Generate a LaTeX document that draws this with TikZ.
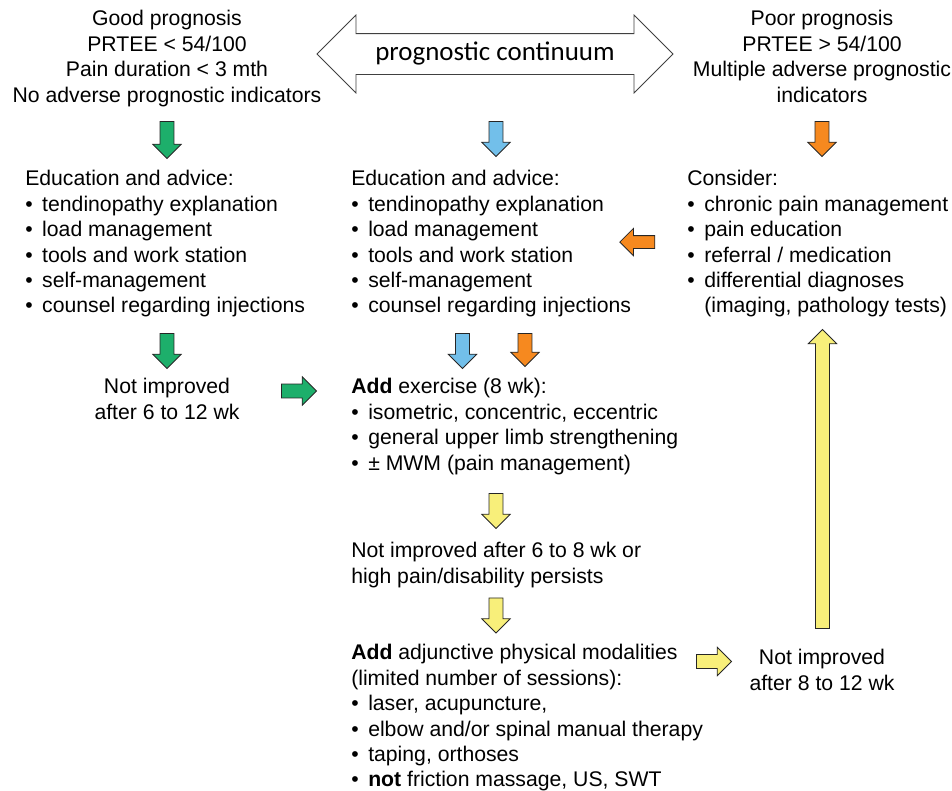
\documentclass[tikz,border=0pt]{standalone}
\usepackage{fontspec}
\setmainfont{Liberation Sans}
\newfontfamily\calib{Carlito}
\usetikzlibrary{shapes.arrows,positioning}

\definecolor{goodgreen}{HTML}{1DAF6B}
\definecolor{midblue}{HTML}{72BFEA}
\definecolor{pooror}{HTML}{F6891F}
\definecolor{lateyel}{HTML}{F8EF7A}

\newcommand{\bul}{\makebox[12.75pt][l]{\textbullet}}

\begin{document}
\begin{tikzpicture}[x=0.75pt,y=-0.75pt,
      txt/.style={font=\fontsize{15.9}{19.1}\selectfont,inner sep=0pt,align=left,anchor=north west},
      ctxt/.style={txt,align=center,anchor=north},
      blk/.style={single arrow,draw=black!85,line width=0.6pt,inner sep=4.9pt,
        single arrow head extend=5.5pt,single arrow head indent=0pt},
      down/.style={blk,shape border rotate=270},
      up/.style={blk,shape border rotate=90},
      left/.style={blk,shape border rotate=180},
      right/.style={blk}]
  \useasboundingbox (0,0) rectangle (952,790);

  % prognostic continuum
  \node[double arrow,draw=black!75,line width=0.6pt,fill=white,inner xsep=2pt,inner ysep=5pt,
        text height=15pt,text depth=5pt,
        double arrow head extend=13.9pt,minimum height=267pt,
        font=\calib\fontsize{20.2}{24}\selectfont] (cont) at (495,54) {prognostic continuum};

  % prognosis headers
  \node[ctxt] (good) at (167,10) {Good prognosis\\PRTEE < 54/100\\Pain duration < 3 mth\\No adverse prognostic indicators};
  \node[ctxt] (poor) at (822,10) {Poor prognosis\\PRTEE > 54/100\\Multiple adverse prognostic\\indicators};

  % first step
  \node[txt] (eduL) at (25,170) {Education and advice:\\
    \bul tendinopathy explanation\\
    \bul load management\\
    \bul tools and work station\\
    \bul self-management\\
    \bul counsel regarding injections};
  \node[txt] (eduM) at (351,170) {Education and advice:\\
    \bul tendinopathy explanation\\
    \bul load management\\
    \bul tools and work station\\
    \bul self-management\\
    \bul counsel regarding injections};
  \node[txt] (cons) at (687,170) {Consider:\\
    \bul chronic pain management\\
    \bul pain education\\
    \bul referral / medication\\
    \bul differential diagnoses\\
    \hphantom{\bul}(imaging, pathology tests)};

  % later steps
  \node[ctxt] (notL) at (167,378) {Not improved\\after 6 to 12 wk};
  \node[txt] (exer) at (351,378) {\textbf{Add} exercise (8 wk):\\
    \bul isometric, concentric, eccentric\\
    \bul general upper limb strengthening\\
    \bul ± MWM (pain management)};
  \node[txt] (notM) at (351,542) {Not improved after 6 to 8 wk or\\high pain/disability persists};
  \node[txt] (adj) at (351,644) {\textbf{Add} adjunctive physical modalities\\
    (limited number of sessions):\\
    \bul laser, acupuncture,\\
    \bul elbow and/or spinal manual therapy\\
    \bul taping, orthoses\\
    \bul \textbf{not} friction massage, US, SWT};
  \node[ctxt] (notR) at (822,649) {Not improved\\after 8 to 12 wk};

  % block arrows
  \node[down,fill=goodgreen,minimum height=27.75pt] (gA) at (167,136.5) {};
  \node[down,fill=midblue,minimum height=26.25pt] (bA) at (496,135.5) {};
  \node[down,fill=pooror,minimum height=26.25pt] (oA) at (822,135.5) {};
  \node[left,fill=pooror,minimum height=26.25pt,inner sep=4.5pt] (oL) at (640.5,242) {};
  \node[down,fill=goodgreen,minimum height=26.25pt] (gB) at (167,347.5) {};
  \node[down,fill=midblue,minimum height=26.25pt] (bB) at (462.5,347.5) {};
  \node[down,fill=pooror,minimum height=24.75pt] (oB) at (525,346.5) {};
  \node[right,fill=goodgreen,minimum height=26.25pt] (gR) at (295.5,391) {};
  \node[down,fill=lateyel,minimum height=26.25pt] (yA) at (496,507.5) {};
  \node[down,fill=lateyel,minimum height=26.25pt] (yB) at (496,612) {};
  \node[right,fill=lateyel,minimum height=26.25pt] (yR) at (710.5,661.5) {};
  \node[up,fill=lateyel,minimum height=224.25pt] (yU) at (822.5,482.5) {};
\end{tikzpicture}
\end{document}
